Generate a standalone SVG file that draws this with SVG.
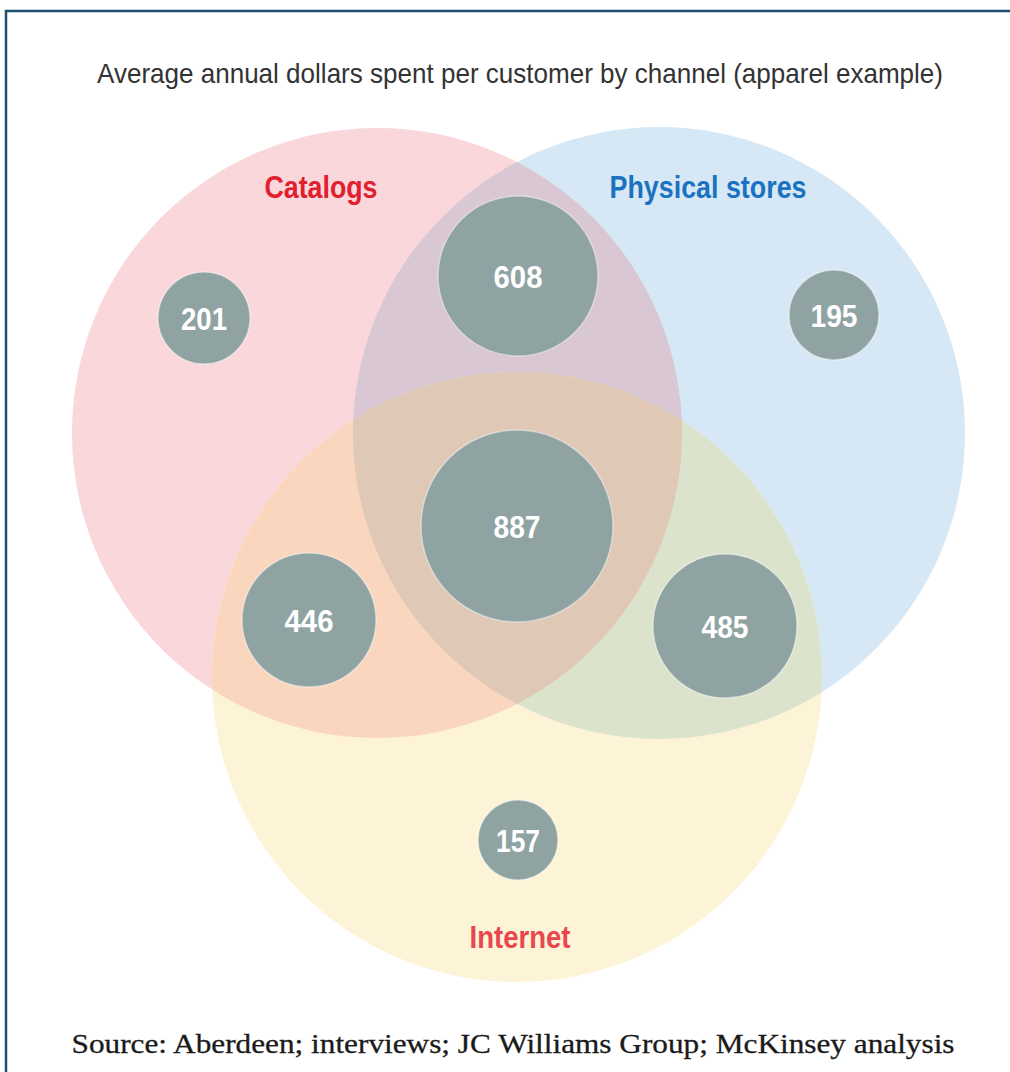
<svg xmlns="http://www.w3.org/2000/svg" width="1010" height="1072" viewBox="0 0 1010 1072">
  <style>
    .dot { fill: #8fa3a2; stroke: #ffffff; stroke-opacity: 0.45; stroke-width: 1.5; }
    .num { font-family: "Liberation Sans", Arial, sans-serif; font-weight: bold; font-size: 32px; fill: #ffffff; text-anchor: middle; }
    .lbl { font-family: "Liberation Sans", Arial, sans-serif; font-weight: bold; font-size: 31px; text-anchor: middle; }
  </style>
  <defs>
    <clipPath id="inCatalogs"><circle cx="377" cy="433" r="305"/></clipPath>
    <clipPath id="inStores"><circle cx="659" cy="433" r="306"/></clipPath>
    <clipPath id="inInternet"><circle cx="517" cy="677" r="305"/></clipPath>
  </defs>
  <rect x="0" y="0" width="1010" height="1072" fill="#ffffff"/>
  <!-- frame -->
  <path d="M6 1072 V11 H1010" fill="none" stroke="#1f4f70" stroke-width="2.5"/>
  <text x="520" y="83" font-family="Liberation Sans, Arial, sans-serif" font-size="28" fill="#333333" text-anchor="middle" textLength="846" lengthAdjust="spacingAndGlyphs">Average annual dollars spent per customer by channel (apparel example)</text>

  <!-- channel sets -->
  <g id="catalogs"><circle cx="377" cy="433" r="305" fill="#f9d7da"/></g>
  <g id="physical-stores"><circle cx="659" cy="433" r="306" fill="#d6e8f5"/></g>
  <g id="internet"><circle cx="517" cy="677" r="305" fill="#fdf4d8"/></g>

  <!-- overlaps between sets -->
  <g id="overlaps">
    <circle cx="377" cy="433" r="305" fill="#d9c7d4" clip-path="url(#inStores)"/>
    <circle cx="377" cy="433" r="305" fill="#f9d6bd" clip-path="url(#inInternet)"/>
    <circle cx="659" cy="433" r="306" fill="#dce3cc" clip-path="url(#inInternet)"/>
    <g clip-path="url(#inStores)">
      <circle cx="377" cy="433" r="305" fill="#e0c8b6" clip-path="url(#inInternet)"/>
    </g>
  </g>

  <text class="lbl" x="321" y="198" fill="#e0202e" textLength="113" lengthAdjust="spacingAndGlyphs">Catalogs</text>
  <text class="lbl" x="708" y="198" fill="#1b72c0" textLength="197" lengthAdjust="spacingAndGlyphs">Physical stores</text>
  <text class="lbl" x="520" y="948" fill="#e8474f" textLength="101" lengthAdjust="spacingAndGlyphs">Internet</text>

  <!-- spend per segment -->
  <g id="seg-201"><circle class="dot" cx="204" cy="318" r="46"/><text class="num" x="204" y="330" textLength="46" lengthAdjust="spacingAndGlyphs">201</text></g>
  <g id="seg-608"><circle class="dot" cx="518" cy="276" r="80"/><text class="num" x="518" y="288" textLength="49" lengthAdjust="spacingAndGlyphs">608</text></g>
  <g id="seg-195"><circle class="dot" cx="834" cy="315" r="45"/><text class="num" x="834" y="327" textLength="47" lengthAdjust="spacingAndGlyphs">195</text></g>
  <g id="seg-887"><circle class="dot" cx="517" cy="526" r="96"/><text class="num" x="517" y="538" textLength="47" lengthAdjust="spacingAndGlyphs">887</text></g>
  <g id="seg-446"><circle class="dot" cx="309" cy="620" r="67"/><text class="num" x="309" y="632" textLength="49" lengthAdjust="spacingAndGlyphs">446</text></g>
  <g id="seg-485"><circle class="dot" cx="725" cy="626" r="72"/><text class="num" x="725" y="638" textLength="47" lengthAdjust="spacingAndGlyphs">485</text></g>
  <g id="seg-157"><circle class="dot" cx="518" cy="840" r="40"/><text class="num" x="518" y="852" textLength="44" lengthAdjust="spacingAndGlyphs">157</text></g>

  <g id="connectors"/>

  <text x="513" y="1053" font-family="Liberation Serif, 'Times New Roman', serif" font-size="28" fill="#1a1a1a" stroke="#1a1a1a" stroke-width="0.3" text-anchor="middle" textLength="883" lengthAdjust="spacingAndGlyphs">Source: Aberdeen; interviews; JC Williams Group; McKinsey analysis</text>
</svg>
